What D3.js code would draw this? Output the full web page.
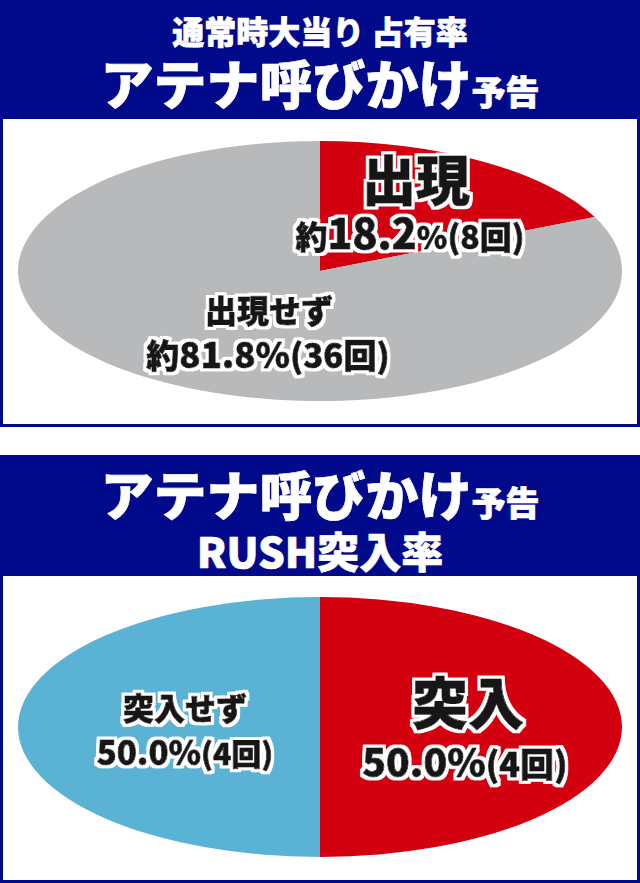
<!DOCTYPE html>
<html>
<head>
<meta charset="utf-8">
<script src="https://cdn.jsdelivr.net/npm/d3@7"></script>
<style>
  html, body { margin: 0; padding: 0; background: #fff; }
  svg { display: block; }
  text { font-family: "Noto Sans CJK JP", "Noto Sans", sans-serif; font-weight: 900; }
  .ink { fill: #141414; stroke: #141414; stroke-width: 0.9px; stroke-linejoin: round; filter: url(#halo); }
  .head { fill: #fff; stroke: #fff; stroke-width: 0.7px; stroke-linejoin: round; }
</style>
</head>
<body>
<svg id="chart" width="640" height="883"></svg>
<script>
// data ---
var appearLabels = ["出現", "出現せず"];
var appearCounts = [8, 36];
var appearColors = ["#d3000f", "#b8b9bb"];

var rushLabels = ["突入", "突入せず"];
var rushCounts = [4, 4];
var rushColors = ["#d3000f", "#5ab2d5"];

var navy = "#020a8c";
var svg = d3.select("#chart");

// white outline round the labels
var f = svg.append("defs").append("filter").attr("id", "halo")
    .attr("x", "-10%").attr("y", "-20%").attr("width", "120%").attr("height", "140%");
f.append("feMorphology").attr("in", "SourceAlpha").attr("operator", "dilate").attr("radius", 3.2).attr("result", "grow");
f.append("feFlood").attr("flood-color", "#fff").attr("result", "white");
f.append("feComposite").attr("in", "white").attr("in2", "grow").attr("operator", "in").attr("result", "outline");
var m = f.append("feMerge");
m.append("feMergeNode").attr("in", "outline");
m.append("feMergeNode").attr("in", "SourceGraphic");

function panel(y0, y1, headBottom) {
    svg.append("rect").attr("x", 0).attr("y", y0).attr("width", 640).attr("height", y1 - y0).attr("fill", navy);
    svg.append("rect").attr("x", 3).attr("y", headBottom).attr("width", 634).attr("height", y1 - 3 - headBottom).attr("fill", "#fff");
}

// ellipse pie: unit circle pie scaled into ellipse
function ellipsePie(counts, colors, cx, cy, rx, ry) {
    var pie = d3.pie().sort(null).value(function (d) { return d; });
    var arc = d3.arc().innerRadius(0).outerRadius(1);
    var g = svg.append("g").attr("transform", "translate(" + cx + "," + cy + ") scale(" + rx + "," + ry + ")");
    g.selectAll("path").data(pie(counts)).enter().append("path")
        .attr("d", arc)
        .attr("fill", function (d, i) { return colors[i]; });
}

function pct(counts, i, digits) {
    var total = d3.sum(counts);
    return d3.format("." + digits + "f")(counts[i] / total * 100);
}

function textParts(cls, x, y, parts) {
    var t = svg.append("text").attr("class", cls).attr("x", x).attr("y", y).attr("text-anchor", "middle");
    parts.forEach(function (p) {
        t.append("tspan").attr("font-size", p[1]).text(p[0]);
    });
}

function label(x, y, parts) { textParts("ink", x, y, parts); }
function header(x, y, parts) { textParts("head", x, y, parts); }

//  Panel 1  ---
panel(0, 427, 119);
header(320, 44, [["通常時大当り 占有率", 32]]);
header(320, 105, [["アテナ呼びかけ", 53], ["予告", 34]]);
ellipsePie(appearCounts, appearColors, 320, 271, 302, 130);

label(416, 201, [[appearLabels[0], 54]]);
label(410, 249, [["約", 32], [pct(appearCounts, 0, 1), 41], ["%", 31], ["(" + appearCounts[0] + "回)", 32]]);
label(269, 323, [[appearLabels[1], 32]]);
label(268, 368, [["約", 33], [pct(appearCounts, 1, 1) + "%", 35], ["(" + appearCounts[1] + "回)", 33]]);

//  Panel 2  ---
panel(455, 883, 576);
header(320, 516, [["アテナ呼びかけ", 53], ["予告", 34]]);
header(320, 568, [["RUSH突入率", 42]]);
ellipsePie(rushCounts, rushColors, 320, 727, 302, 130);

label(468, 724, [[rushLabels[0], 56]]);
label(465, 777, [[pct(rushCounts, 0, 1) + "%", 39], ["(" + rushCounts[0] + "回)", 34]]);
label(185, 720, [[rushLabels[1], 31]]);
label(185, 765, [[pct(rushCounts, 1, 1) + "%", 33], ["(" + rushCounts[1] + "回)", 30]]);
</script>
</body>
</html>
